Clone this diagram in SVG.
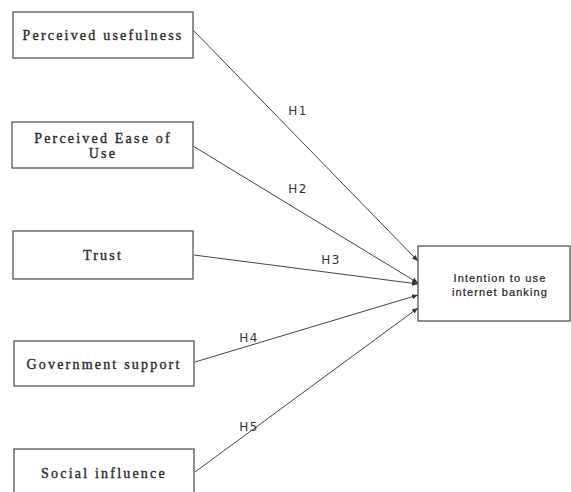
<svg xmlns="http://www.w3.org/2000/svg" width="571" height="492" viewBox="0 0 571 492">
<style>
.box{fill:#fff;stroke:#555;stroke-width:1.3}
.bt{font-family:"Liberation Serif",serif;font-size:14px;letter-spacing:2.2px;fill:#2a2a2a;stroke:#2a2a2a;stroke-width:0.35;text-anchor:middle}
.tt{font-family:"Liberation Sans",sans-serif;font-size:11px;letter-spacing:1.1px;fill:#222;stroke:#222;stroke-width:0.2;text-anchor:middle}
.lbl{font-family:"DejaVu Sans",sans-serif;font-size:12px;letter-spacing:1.5px;fill:#333;text-anchor:middle}
.ln{stroke:#444;stroke-width:1;fill:none;marker-end:url(#ah)}
</style>
<defs>
<marker id="ah" markerWidth="6" markerHeight="5" refX="6" refY="2.5" orient="auto" markerUnits="userSpaceOnUse">
<path d="M0,0 L6,2.5 L0,5 Z" fill="#333"/>
</marker>
</defs>
<rect width="571" height="492" fill="#fff"/>
<g id="connectors">
<line class="ln" x1="193" y1="30" x2="418" y2="261"/>
<line class="ln" x1="193" y1="146" x2="418" y2="283"/>
<line class="ln" x1="194" y1="255" x2="418" y2="284"/>
<line class="ln" x1="195" y1="362" x2="418" y2="295"/>
<line class="ln" x1="195" y1="472" x2="418" y2="308"/>
<text class="lbl" x="298" y="115">H1</text>
<text class="lbl" x="298" y="193">H2</text>
<text class="lbl" x="331" y="264">H3</text>
<text class="lbl" x="249" y="342">H4</text>
<text class="lbl" x="249" y="431">H5</text>
</g>
<g id="pu">
<rect class="box" x="13" y="12" width="180" height="46"/>
<text class="bt" x="103" y="40">Perceived usefulness</text>
</g>
<g id="peou">
<rect class="box" x="12" y="122" width="181" height="46"/>
<text class="bt" x="103" y="143">Perceived Ease of</text>
<text class="bt" x="103" y="158">Use</text>
</g>
<g id="trust">
<rect class="box" x="13" y="231" width="180" height="48"/>
<text class="bt" x="103" y="260">Trust</text>
</g>
<g id="gov">
<rect class="box" x="14" y="341" width="180" height="45"/>
<text class="bt" x="104" y="369">Government support</text>
</g>
<g id="social">
<rect class="box" x="14" y="449" width="180" height="50"/>
<text class="bt" x="104" y="478">Social influence</text>
</g>
<g id="intention">
<rect class="box" x="418" y="246" width="152" height="75"/>
<text class="tt" x="500" y="282">Intention to use</text>
<text class="tt" x="500" y="296">internet banking</text>
</g>
</svg>
